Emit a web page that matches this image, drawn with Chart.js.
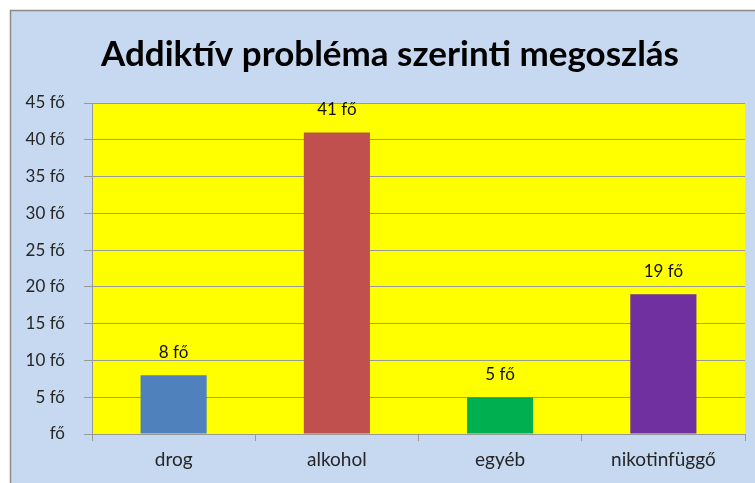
<!DOCTYPE html>
<html>
<head>
<meta charset="utf-8">
<script src="https://cdn.jsdelivr.net/npm/chart.js@4"></script>
<style>
  html, body { margin: 0; padding: 0; background: #fff; }
  #wrap { width: 755px; height: 483px; }
</style>
</head>
<body>
<div id="wrap"><canvas id="chart"></canvas></div>
<script>
// Chart data
const TITLE = 'Addiktív probléma szerinti megoszlás';
const categories = ['drog', 'alkohol', 'egyéb', 'nikotinfüggő'];
const values = [8, 41, 5, 19];
const barColors = ['#4f81bd', '#c0504d', '#00b050', '#7030a0'];
const UNIT = 'fő';

const FONT = 'Lato, "Open Sans", sans-serif';
const GRID = '#999999';

// panel background, yellow plot area and title
const panelPlugin = {
  id: 'panel',
  beforeDraw(chart) {
    const { ctx, chartArea } = chart;
    ctx.save();
    ctx.fillStyle = '#ffffff';
    ctx.fillRect(0, 0, chart.width, chart.height);
    ctx.fillStyle = '#c6d9f1';
    ctx.fillRect(10, 10, chart.width, chart.height);
    ctx.strokeStyle = '#8c8c8c';
    ctx.lineWidth = 1.5;
    ctx.beginPath();
    ctx.moveTo(10.5, chart.height);
    ctx.lineTo(10.5, 10.5);
    ctx.lineTo(chart.width, 10.5);
    ctx.stroke();

    ctx.fillStyle = '#ffff00';
    ctx.fillRect(chartArea.left, chartArea.top, chartArea.right - chartArea.left, chartArea.bottom - chartArea.top);

    ctx.fillStyle = '#000';
    ctx.font = 'bold 35px ' + FONT;
    ctx.textAlign = 'center';
    ctx.textBaseline = 'middle';
    ctx.fillText(TITLE, 390, 55);
    ctx.restore();
  }
};

// value labels above bars
const valueLabels = {
  id: 'valueLabels',
  afterDatasetsDraw(chart) {
    const { ctx } = chart;
    const meta = chart.getDatasetMeta(0);
    ctx.save();
    ctx.fillStyle = '#111';
    ctx.font = '17px ' + FONT;
    ctx.textAlign = 'center';
    ctx.textBaseline = 'middle';
    meta.data.forEach((bar, i) => {
      ctx.fillText(values[i] + ' ' + UNIT, bar.x, bar.y - 23);
    });
    ctx.restore();
  }
};

new Chart(document.getElementById('chart'), {
  type: 'bar',
  data: {
    labels: categories,
    datasets: [{
      data: values,
      backgroundColor: barColors,
      borderWidth: 0,
      barPercentage: 0.81,
      categoryPercentage: 0.5
    }]
  },
  options: {
    responsive: true,
    maintainAspectRatio: false,
    animation: false,
    layout: { padding: { top: 103, right: 10, bottom: 0, left: 0 } },
    plugins: {
      legend: { display: false },
      tooltip: { enabled: false },
      title: { display: false }
    },
    scales: {
      x: {
        offset: true,
        afterFit(scale) { scale.height = 49; },
        border: { color: GRID, width: 1 },
        grid: {
          offset: true,
          drawOnChartArea: false,
          drawTicks: true,
          tickLength: 7,
          color: GRID
        },
        ticks: {
          color: '#262626',
          font: { family: FONT, size: 19 },
          padding: 7
        }
      },
      y: {
        min: 0,
        max: 45,
        afterFit(scale) { scale.width = 92; },
        border: { color: GRID, width: 1 },
        grid: {
          color: GRID,
          drawTicks: true,
          tickLength: 8
        },
        ticks: {
          stepSize: 5,
          color: '#262626',
          padding: 19,
          font: { family: FONT, size: 17 },
          callback: v => (v === 0 ? '' : v + ' ') + UNIT
        }
      }
    }
  },
  plugins: [panelPlugin, valueLabels]
});
</script>
</body>
</html>
